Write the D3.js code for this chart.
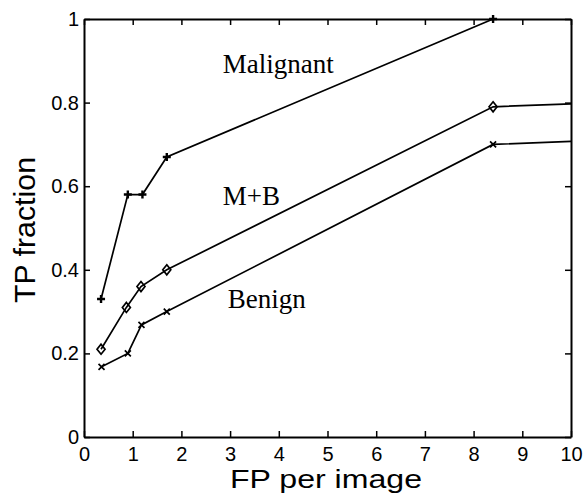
<!DOCTYPE html>
<html lang="en">
<head>
    <meta charset="utf-8" />
    <title>TP fraction vs FP per image</title>
    <script type="text/javascript" src="https://d3js.org/d3.v7.min.js"></script>
    <style>
        body { margin: 0; background: #fff; }
        svg text { fill: #000; }
    </style>
</head>
<body>
    <script type="text/javascript">

        // data
        var malignantFP = [0.35, 0.9, 1.2, 1.7, 8.4];
        var malignantTP = [0.33, 0.58, 0.58, 0.67, 1.0];

        var mbFP = [0.35, 0.87, 1.17, 1.7, 8.4, 10];
        var mbTP = [0.21, 0.31, 0.36, 0.40, 0.79, 0.797];

        var benignFP = [0.36, 0.9, 1.18, 1.7, 8.4, 10];
        var benignTP = [0.168, 0.20, 0.268, 0.30, 0.70, 0.707];

        var xTicks = [0, 1, 2, 3, 4, 5, 6, 7, 8, 9, 10];
        var yTicks = [0, 0.2, 0.4, 0.6, 0.8, 1];
        var yTickLabels = ["0", "0.2", "0.4", "0.6", "0.8", "1"];

        var seriesNames = ["Malignant", "M+B", "Benign"];
        var labelFP = [2.85, 2.85, 2.95];
        var labelTP = [0.871, 0.555, 0.309];

        var w = 583;
        var h = 498;

        var svg = d3.select("body")
            .append("svg")
            .attr("width", w)
            .attr("height", h);

        var xScale = d3.scaleLinear()
            .domain([0, 10])
            .range([84, 571]);

        var yScale = d3.scaleLinear()
            .domain([0, 1])
            .range([437, 19]);

        var sans = "'Liberation Sans', Arial, sans-serif";
        var serif = "'Liberation Serif', 'Times New Roman', serif";

        // axes, ticks pointing inward
        var axBottom = svg.append("g")
            .attr("transform", "translate(0," + yScale(0) + ")")
            .call(d3.axisBottom(xScale).tickValues(xTicks).tickFormat(d3.format("d"))
                .tickSizeInner(-6).tickSizeOuter(0).tickPadding(10));

        var axLeft = svg.append("g")
            .attr("transform", "translate(" + xScale(0) + ",0)")
            .call(d3.axisLeft(yScale).tickValues(yTicks)
                .tickFormat(function (d, i) { return yTickLabels[i]; })
                .tickSizeInner(-6).tickSizeOuter(0).tickPadding(5));

        var axTop = svg.append("g")
            .attr("transform", "translate(0," + yScale(1) + ")")
            .call(d3.axisTop(xScale).tickValues(xTicks).tickFormat("")
                .tickSizeInner(-6).tickSizeOuter(0));

        var axRight = svg.append("g")
            .attr("transform", "translate(" + xScale(10) + ",0)")
            .call(d3.axisRight(yScale).tickValues(yTicks).tickFormat("")
                .tickSizeInner(-6).tickSizeOuter(0));

        [axBottom, axLeft, axTop, axRight].forEach(function (g) {
            g.select(".domain").attr("stroke", "#000").attr("stroke-width", 2);
            g.selectAll(".tick line").attr("stroke", "#000").attr("stroke-width", 1.5);
            g.selectAll(".tick text")
                .attr("font-family", sans)
                .attr("font-size", "20px")
                .attr("fill", "#000");
        });

        // axis titles (the original glyphs are a little wide, hence textLength)
        svg.append("text")
            .text("FP per image")
            .attr("x", 326)
            .attr("y", 488)
            .attr("text-anchor", "middle")
            .attr("textLength", 192)
            .attr("lengthAdjust", "spacingAndGlyphs")
            .attr("font-family", sans)
            .attr("font-size", "26px");

        svg.append("text")
            .text("TP fraction")
            .attr("transform", "translate(35," + 230 + ") rotate(-90)")
            .attr("text-anchor", "middle")
            .attr("textLength", 146)
            .attr("lengthAdjust", "spacingAndGlyphs")
            .attr("font-family", sans)
            .attr("font-size", "29px");

        // series
        var series = [
            { fp: malignantFP, tp: malignantTP, marker: "plus" },
            { fp: mbFP, tp: mbTP, marker: "diamond" },
            { fp: benignFP, tp: benignTP, marker: "cross" }
        ];

        var line = d3.line()
            .x(function (d) { return xScale(d[0]); })
            .y(function (d) { return yScale(d[1]); });

        series.forEach(function (s) {
            var pts = s.fp.map(function (x, i) { return [x, s.tp[i]]; });

            svg.append("path")
                .datum(pts)
                .attr("d", line)
                .attr("fill", "none")
                .attr("stroke", "#000")
                .attr("stroke-width", 1.7);

            // markers only on measured points inside the axes
            var mk = svg.selectAll(null)
                .data(pts.filter(function (d) { return d[0] < 10; }))
                .enter()
                .append("path")
                .attr("transform", function (d) {
                    return "translate(" + xScale(d[0]) + "," + yScale(d[1]) + ")";
                })
                .attr("fill", "none")
                .attr("stroke", "#000")
                .attr("stroke-width", 1.7);

            if (s.marker === "plus") {
                mk.attr("d", "M-4,0H4M0,-4V4").attr("stroke-width", 2.4);
            } else if (s.marker === "diamond") {
                mk.attr("d", "M0,-5L4,0L0,5L-4,0Z");
            } else {
                mk.attr("d", "M-3,-3L3,3M-3,3L3,-3");
            }
        });

        // in-plot labels
        svg.selectAll(".series-label")
            .data(seriesNames)
            .enter()
            .append("text")
            .attr("class", "series-label")
            .text(function (d) { return d; })
            .attr("x", function (d, i) { return xScale(labelFP[i]); })
            .attr("y", function (d, i) { return yScale(labelTP[i]); })
            .attr("font-family", serif)
            .attr("font-size", "27px");

    </script>
</body>
</html>
